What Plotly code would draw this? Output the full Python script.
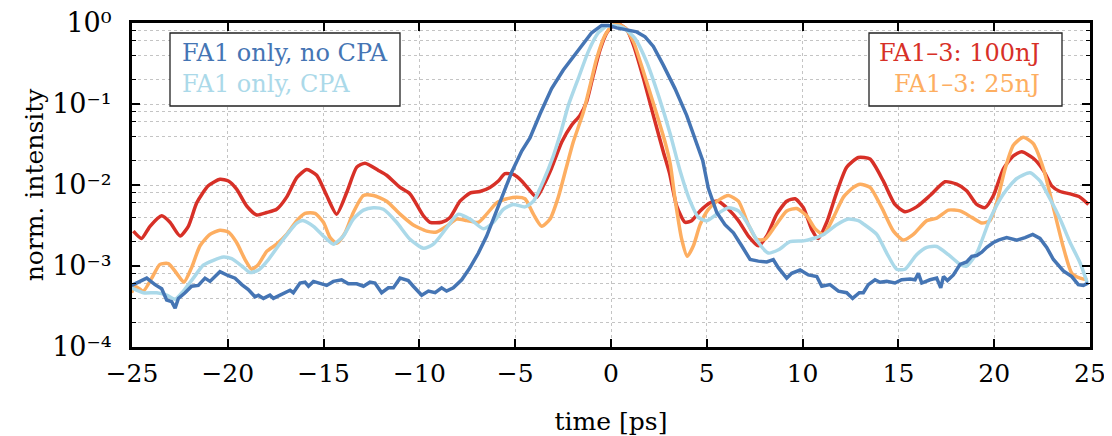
import numpy as np
import plotly.graph_objects as go

# ---------------- data (intensities given as log10) -------------
t_nocpa = [-25.02, -24.67, -24.23, -23.80, -23.45, -23.19, -22.93, -22.75, -22.58, -22.23,
           -21.89, -21.54, -21.19, -20.93, -20.41, -19.97, -19.62, -19.27, -18.93, -18.58,
           -18.40, -18.14, -17.80, -17.62, -17.27, -17.01, -16.75, -16.58, -16.23, -15.97,
           -15.79, -15.53, -15.18, -14.84, -14.49, -14.06, -13.71, -13.27, -12.92, -12.58,
           -12.32, -11.97, -11.62, -11.36, -11.01, -10.58, -10.32, -9.88, -9.53, -9.18,
           -8.84, -8.58, -8.23, -7.79, -7.36, -6.92, -6.49, -6.05, -5.62, -5.18,
           -4.66, -4.23, -3.70, -3.10, -2.49, -1.70, -1.01, -0.49, -0.14, 0.30,
           0.82, 1.34, 1.78, 2.21, 2.73, 3.34, 3.95, 4.47, 4.79, 5.08,
           5.52, 5.95, 6.39, 6.82, 7.26, 7.69, 8.13, 8.47, 8.73, 9.17,
           9.43, 9.87, 10.30, 10.74, 11.00, 11.43, 11.87, 12.30, 12.61, 12.96,
           13.17, 13.43, 13.78, 14.04, 14.39, 14.82, 15.17, 15.61, 15.87, 16.04,
           16.22, 16.65, 17.00, 17.21, 17.35, 17.56, 17.87, 18.22, 18.56, 18.83,
           19.09, 19.35, 19.61, 19.96, 20.22, 20.65, 21.18, 21.61, 22.01, 22.39,
           22.74, 23.09, 23.61, 24.05, 24.39, 24.65, 24.91]
lg_nocpa = [-3.24, -3.20, -3.15, -3.23, -3.28, -3.42, -3.44, -3.52, -3.40, -3.33,
            -3.25, -3.24, -3.15, -3.19, -3.07, -3.12, -3.15, -3.23, -3.29, -3.38,
            -3.36, -3.40, -3.36, -3.40, -3.36, -3.33, -3.30, -3.33, -3.21, -3.20,
            -3.25, -3.19, -3.22, -3.24, -3.19, -3.17, -3.22, -3.22, -3.25, -3.20,
            -3.21, -3.33, -3.27, -3.27, -3.15, -3.18, -3.25, -3.36, -3.31, -3.33,
            -3.27, -3.31, -3.27, -3.17, -3.02, -2.84, -2.63, -2.36, -2.09, -1.84,
            -1.58, -1.42, -1.12, -0.81, -0.58, -0.33, -0.12, -0.03, -0.03, -0.06,
            -0.08, -0.11, -0.17, -0.29, -0.52, -0.81, -1.14, -1.48, -1.70, -2.04,
            -2.34, -2.49, -2.59, -2.75, -2.92, -2.94, -2.95, -2.92, -3.02, -3.15,
            -3.09, -3.05, -3.11, -3.13, -3.25, -3.23, -3.31, -3.33, -3.40, -3.33,
            -3.33, -3.23, -3.17, -3.20, -3.19, -3.21, -3.17, -3.16, -3.17, -3.09,
            -3.21, -3.17, -3.15, -3.27, -3.13, -3.18, -3.11, -2.98, -2.95, -2.88,
            -2.87, -2.83, -2.77, -2.71, -2.68, -2.65, -2.68, -2.65, -2.61, -2.66,
            -2.77, -2.92, -3.06, -3.13, -3.23, -3.24, -3.21]

t_cpa = [-25.02, -24.41, -23.71, -23.19, -22.75, -22.32, -21.80, -21.28, -20.75, -20.23,
         -19.80, -19.27, -18.84, -18.40, -17.88, -17.36, -16.84, -16.40, -16.05, -15.53,
         -14.92, -14.49, -13.97, -13.45, -12.92, -12.40, -11.88, -11.19, -10.49, -9.79,
         -9.27, -8.58, -7.97, -7.36, -6.66, -6.14, -5.62, -5.10, -4.49, -4.05,
         -3.53, -3.01, -2.62, -2.23, -1.70, -1.18, -0.66, -0.22, 0.12, 0.65,
         1.25, 1.86, 2.47, 3.08, 3.60, 4.13, 4.56, 5.00, 5.52, 6.13,
         6.65, 7.17, 7.69, 8.21, 8.74, 9.34, 10.04, 10.56, 11.09, 11.78,
         12.39, 12.91, 13.17, 13.87, 14.39, 14.91, 15.34, 15.95, 16.48, 17.00,
         17.61, 18.22, 18.56, 19.09, 19.78, 20.48, 21.18, 21.87, 22.39, 22.91,
         23.44, 23.96, 24.48, 24.86]
lg_cpa = [-3.27, -3.33, -3.33, -3.36, -3.41, -3.31, -3.15, -2.99, -2.93, -2.89,
          -2.91, -3.00, -3.08, -3.05, -2.92, -2.75, -2.59, -2.47, -2.44, -2.51,
          -2.65, -2.73, -2.63, -2.42, -2.31, -2.28, -2.30, -2.46, -2.67, -2.78,
          -2.73, -2.53, -2.36, -2.42, -2.54, -2.46, -2.30, -2.24, -2.27, -2.20,
          -1.95, -1.64, -1.35, -1.02, -0.68, -0.35, -0.12, -0.04, -0.03, -0.06,
          -0.19, -0.48, -0.89, -1.36, -1.82, -2.20, -2.40, -2.44, -2.36, -2.28,
          -2.32, -2.49, -2.71, -2.84, -2.80, -2.70, -2.69, -2.66, -2.61, -2.49,
          -2.42, -2.44, -2.48, -2.61, -2.84, -3.04, -3.04, -2.86, -2.77, -2.76,
          -2.86, -2.98, -3.00, -2.84, -2.42, -2.11, -1.92, -1.85, -1.95, -2.17,
          -2.42, -2.71, -2.96, -3.21]

t_100nj = [-24.93, -24.50, -24.06, -23.45, -23.02, -22.49, -22.06, -21.62, -21.02, -20.41,
           -19.97, -19.54, -19.01, -18.49, -17.97, -17.45, -16.93, -16.40, -15.88, -15.36,
           -14.84, -14.32, -13.79, -13.27, -12.84, -12.14, -11.71, -11.01, -10.49, -9.79,
           -9.45, -8.84, -8.40, -7.88, -7.36, -6.84, -6.32, -5.88, -5.53, -5.10,
           -4.66, -4.23, -3.88, -3.53, -3.10, -2.57, -2.05, -1.62, -1.27, -0.92,
           -0.57, -0.22, 0.12, 0.38, 0.82, 1.17, 1.69, 2.21, 2.73, 3.05,
           3.43, 3.86, 4.21, 4.65, 5.17, 5.60, 6.13, 6.65, 7.17, 7.69,
           8.13, 8.65, 9.17, 9.61, 10.04, 10.48, 10.82, 11.26, 11.78, 12.30,
           12.91, 13.52, 14.21, 14.82, 15.34, 15.95, 16.65, 17.43, 18.04, 18.56,
           19.09, 19.52, 19.96, 20.48, 21.00, 21.44, 22.04, 22.57, 23.00, 23.44,
           23.96, 24.48, 24.92]
lg_100nj = [-2.57, -2.66, -2.51, -2.38, -2.46, -2.63, -2.51, -2.22, -2.01, -1.93,
            -1.95, -2.05, -2.26, -2.37, -2.34, -2.30, -2.15, -1.91, -1.81, -1.88,
            -2.13, -2.36, -2.09, -1.78, -1.73, -1.82, -1.88, -2.03, -2.11, -2.38,
            -2.46, -2.46, -2.40, -2.20, -2.10, -2.08, -2.03, -1.95, -1.86, -1.87,
            -1.95, -2.07, -2.15, -2.01, -1.79, -1.47, -1.26, -1.14, -0.97, -0.64,
            -0.33, -0.12, -0.03, -0.01, -0.08, -0.27, -0.68, -1.14, -1.59, -1.85,
            -2.26, -2.46, -2.44, -2.32, -2.22, -2.20, -2.30, -2.44, -2.63, -2.75,
            -2.63, -2.36, -2.20, -2.17, -2.28, -2.55, -2.66, -2.46, -2.09, -1.78,
            -1.66, -1.68, -1.95, -2.24, -2.33, -2.27, -2.13, -1.96, -1.99, -2.07,
            -2.24, -2.28, -2.13, -1.80, -1.64, -1.59, -1.67, -1.82, -2.01, -2.08,
            -2.11, -2.15, -2.24]

t_25nj = [-25.02, -24.84, -24.41, -23.97, -23.54, -23.10, -22.67, -22.29, -21.89, -21.45,
          -20.93, -20.41, -19.97, -19.54, -19.10, -18.75, -18.40, -17.97, -17.45, -16.93,
          -16.40, -15.97, -15.45, -15.01, -14.66, -14.32, -13.88, -13.45, -12.92, -12.40,
          -11.71, -11.01, -10.34, -9.62, -9.10, -8.58, -8.05, -7.53, -6.92, -6.49,
          -5.97, -5.44, -4.92, -4.49, -4.05, -3.62, -3.18, -2.75, -2.35, -1.97,
          -1.44, -1.09, -0.75, -0.31, 0.04, 0.30, 0.73, 1.17, 1.69, 2.30,
          2.82, 3.10, 3.34, 3.69, 3.98, 4.30, 4.65, 5.08, 5.60, 6.13,
          6.65, 7.17, 7.60, 8.04, 8.56, 9.17, 9.69, 10.21, 10.65, 11.09,
          11.61, 12.13, 12.65, 13.00, 13.52, 14.13, 14.74, 15.26, 15.78, 16.48,
          17.00, 17.61, 18.22, 18.83, 19.35, 19.78, 20.13, 20.57, 21.00, 21.52,
          22.04, 22.57, 23.09, 23.61, 24.05, 24.48, 24.86]
lg_25nj = [-3.33, -3.25, -3.31, -3.15, -2.98, -2.97, -3.09, -3.20, -3.02, -2.75,
           -2.61, -2.56, -2.58, -2.71, -2.92, -3.04, -2.98, -2.82, -2.73, -2.61,
           -2.44, -2.35, -2.35, -2.46, -2.65, -2.72, -2.59, -2.34, -2.13, -2.13,
           -2.20, -2.36, -2.49, -2.57, -2.58, -2.51, -2.42, -2.44, -2.46, -2.36,
           -2.22, -2.17, -2.15, -2.17, -2.36, -2.51, -2.42, -2.15, -1.80, -1.47,
           -1.10, -0.77, -0.44, -0.15, -0.04, -0.01, -0.06, -0.23, -0.60, -1.06,
           -1.47, -1.75, -2.17, -2.67, -2.88, -2.75, -2.49, -2.30, -2.19, -2.13,
           -2.20, -2.49, -2.67, -2.67, -2.51, -2.32, -2.29, -2.38, -2.54, -2.61,
           -2.40, -2.15, -2.03, -1.99, -2.03, -2.28, -2.57, -2.68, -2.61, -2.44,
           -2.41, -2.31, -2.32, -2.40, -2.47, -2.44, -2.22, -1.80, -1.51, -1.41,
           -1.49, -1.80, -2.28, -2.77, -3.09, -3.15, -3.17]

series_names = ["FA1 only, no CPA", "FA1 only, CPA", "FA1\u20133: 100nJ", "FA1\u20133: 25nJ"]
colors = {"nocpa": "#4575b4", "cpa": "#abd9e9", "100": "#d73027", "25": "#fdae61"}

x_ticks = [-25, -20, -15, -10, -5, 0, 5, 10, 15, 20, 25]
x_ticktext = ["\u221225", "\u221220", "\u221215", "\u221210", "\u22125", "0", "5", "10", "15", "20", "25"]
y_ticks = [1, 0.1, 0.01, 0.001, 0.0001]
y_ticktext = ["10\u2070", "10\u207b\u00b9", "10\u207b\u00b2", "10\u207b\u00b3", "10\u207b\u2074"]
y_minor = [m * 10.0 ** e for e in (-4, -3, -2, -1) for m in (2, 4, 6, 8)]

FONT = "DejaVu Serif"

fig = go.Figure()
def add(t, lg, col, shape):
    fig.add_trace(go.Scatter(x=t, y=np.power(10.0, lg), mode="lines",
                             line=dict(color=col, width=3.5, shape=shape, smoothing=0.6),
                             showlegend=False, hoverinfo="skip"))

add(t_100nj, lg_100nj, colors["100"], "spline")
add(t_25nj, lg_25nj, colors["25"], "spline")
add(t_cpa, lg_cpa, colors["cpa"], "spline")
add(t_nocpa, lg_nocpa, colors["nocpa"], "linear")

grid = "#c4c4c4"
fig.update_xaxes(range=[-25, 25], tickvals=x_ticks, ticktext=x_ticktext, automargin=False,
                 ticks="inside", ticklen=8, tickwidth=1.6, tickcolor="black",
                 showline=True, linecolor="black", linewidth=3, mirror="ticks",
                 showgrid=True, gridcolor=grid, griddash="dot", gridwidth=1,
                 zeroline=False, ticklabelstandoff=2, tickfont=dict(size=25),
                 ticklabeloverflow="allow",
                 title=dict(text="time [ps]", standoff=27, font=dict(size=25)))
fig.update_yaxes(type="log", range=[-4, 0], tickvals=y_ticks, ticktext=y_ticktext,
                 automargin=False, ticklabeloverflow="allow",
                 ticks="inside", ticklen=8, tickwidth=1.6, tickcolor="black",
                 showline=True, linecolor="black", linewidth=3, mirror="ticks",
                 showgrid=True, gridcolor=grid, griddash="dot", gridwidth=1,
                 zeroline=False, ticklabelstandoff=12, tickfont=dict(size=27),
                 minor=dict(tickvals=y_minor, ticks="inside", ticklen=4, tickwidth=1.3,
                            tickcolor="black", showgrid=True, gridcolor=grid,
                            griddash="dot", gridwidth=1),
                 title=dict(text="norm. intensity", standoff=2, font=dict(size=25)))

# page coordinates of the reference; the html body adds an 8 px margin
PAGE_W, PAGE_H, BODY = 1112, 436, 8
L, R, T, B = 132, 1090, 23, 347
W, H = PAGE_W - BODY, PAGE_H - BODY
def px(x):
    return (x - L) / (R - L)
def py(y):
    return (B - y) / (B - T)

for (x0, x1) in [(170, 400), (869, 1062)]:
    fig.add_shape(type="rect", xref="paper", yref="paper",
                  x0=px(x0), x1=px(x1), y0=py(106), y1=py(33),
                  line=dict(color="#222222", width=1.3), fillcolor="white", layer="above")

fig.add_annotation(text=series_names[0], xref="paper", yref="paper", x=px(180), y=py(53),
                   xanchor="left", yanchor="middle", showarrow=False,
                   font=dict(color=colors["nocpa"], size=24))
fig.add_annotation(text=series_names[1], xref="paper", yref="paper", x=px(180), y=py(84),
                   xanchor="left", yanchor="middle", showarrow=False,
                   font=dict(color=colors["cpa"], size=24))
fig.add_annotation(text=series_names[2], xref="paper", yref="paper", x=px(1042), y=py(53),
                   xanchor="right", yanchor="middle", showarrow=False,
                   font=dict(color=colors["100"], size=24))
fig.add_annotation(text=series_names[3], xref="paper", yref="paper", x=px(1042), y=py(84),
                   xanchor="right", yanchor="middle", showarrow=False,
                   font=dict(color=colors["25"], size=24))

fig.update_layout(width=W, height=H,
                  margin=dict(l=L - BODY, r=PAGE_W - R, t=T - BODY, b=PAGE_H - B),
                  paper_bgcolor="white", plot_bgcolor="white",
                  font=dict(family=FONT, size=24, color="black"))

fig.write_html("out.html")
